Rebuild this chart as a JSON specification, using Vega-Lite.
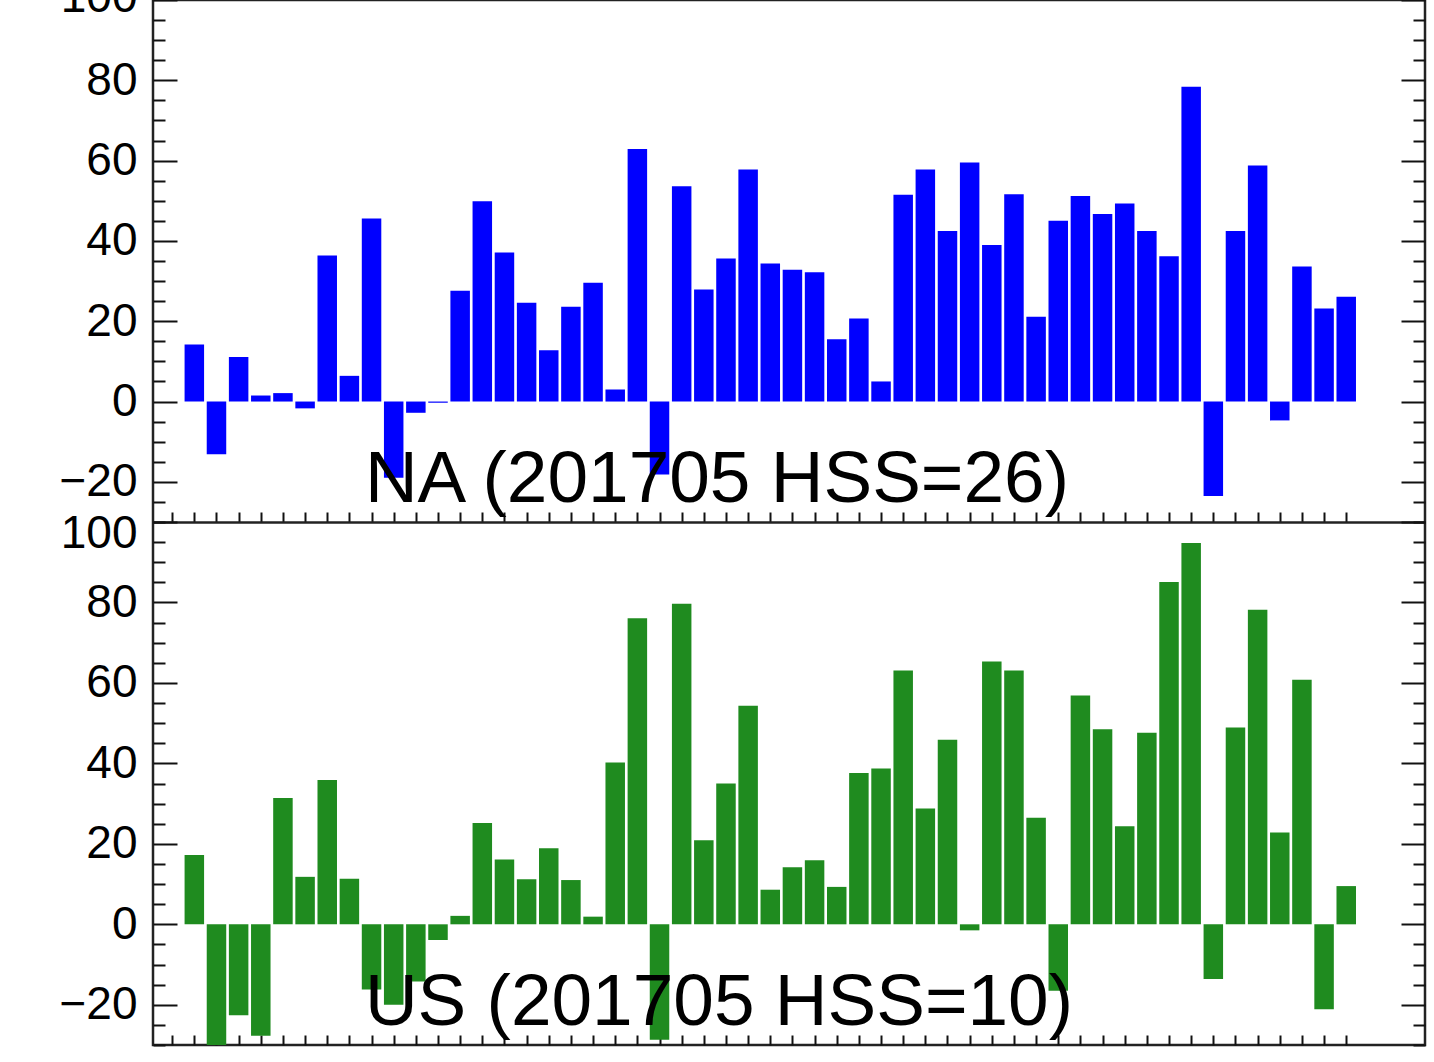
{
  "$schema": "https://vega.github.io/schema/vega-lite/v6.json",
  "autosize": {"type": "none"},
  "padding": {"left": 153, "top": 0, "right": 9, "bottom": 17},
  "background": "white",
  "width": 1272,
  "height": 1045,
  "config": {
    "view": {"stroke": "#222222", "strokeWidth": 2.5},
    "font": "Liberation Sans"
  },
  "datasets": {
    "bars": [
      {"p": "NA", "i": 1, "v": 14.2}, {"p": "NA", "i": 2, "v": -13.1}, {"p": "NA", "i": 3, "v": 11.1}, {"p": "NA", "i": 4, "v": 1.5},
      {"p": "NA", "i": 5, "v": 2.1}, {"p": "NA", "i": 6, "v": -1.7}, {"p": "NA", "i": 7, "v": 36.4}, {"p": "NA", "i": 8, "v": 6.4},
      {"p": "NA", "i": 9, "v": 45.6}, {"p": "NA", "i": 10, "v": -19.0}, {"p": "NA", "i": 11, "v": -2.8}, {"p": "NA", "i": 12, "v": -0.3},
      {"p": "NA", "i": 13, "v": 27.6}, {"p": "NA", "i": 14, "v": 49.9}, {"p": "NA", "i": 15, "v": 37.1}, {"p": "NA", "i": 16, "v": 24.6},
      {"p": "NA", "i": 17, "v": 12.8}, {"p": "NA", "i": 18, "v": 23.6}, {"p": "NA", "i": 19, "v": 29.6}, {"p": "NA", "i": 20, "v": 3.0},
      {"p": "NA", "i": 21, "v": 62.9}, {"p": "NA", "i": 22, "v": -18.2}, {"p": "NA", "i": 23, "v": 53.6}, {"p": "NA", "i": 24, "v": 27.9},
      {"p": "NA", "i": 25, "v": 35.6}, {"p": "NA", "i": 26, "v": 57.8}, {"p": "NA", "i": 27, "v": 34.4}, {"p": "NA", "i": 28, "v": 32.8},
      {"p": "NA", "i": 29, "v": 32.2}, {"p": "NA", "i": 30, "v": 15.5}, {"p": "NA", "i": 31, "v": 20.7}, {"p": "NA", "i": 32, "v": 5.0},
      {"p": "NA", "i": 33, "v": 51.5}, {"p": "NA", "i": 34, "v": 57.8}, {"p": "NA", "i": 35, "v": 42.5}, {"p": "NA", "i": 36, "v": 59.5},
      {"p": "NA", "i": 37, "v": 39.0}, {"p": "NA", "i": 38, "v": 51.6}, {"p": "NA", "i": 39, "v": 21.1}, {"p": "NA", "i": 40, "v": 45.0},
      {"p": "NA", "i": 41, "v": 51.2}, {"p": "NA", "i": 42, "v": 46.7}, {"p": "NA", "i": 43, "v": 49.3}, {"p": "NA", "i": 44, "v": 42.5},
      {"p": "NA", "i": 45, "v": 36.2}, {"p": "NA", "i": 46, "v": 78.4}, {"p": "NA", "i": 47, "v": -23.5}, {"p": "NA", "i": 48, "v": 42.5},
      {"p": "NA", "i": 49, "v": 58.8}, {"p": "NA", "i": 50, "v": -4.7}, {"p": "NA", "i": 51, "v": 33.6}, {"p": "NA", "i": 52, "v": 23.2},
      {"p": "NA", "i": 53, "v": 26.1},
      {"p": "US", "i": 1, "v": 17.2}, {"p": "US", "i": 2, "v": -31}, {"p": "US", "i": 3, "v": -22.6}, {"p": "US", "i": 4, "v": -27.7},
      {"p": "US", "i": 5, "v": 31.4}, {"p": "US", "i": 6, "v": 11.8}, {"p": "US", "i": 7, "v": 35.9}, {"p": "US", "i": 8, "v": 11.3},
      {"p": "US", "i": 9, "v": -16.2}, {"p": "US", "i": 10, "v": -20.0}, {"p": "US", "i": 11, "v": -14.2}, {"p": "US", "i": 12, "v": -3.9},
      {"p": "US", "i": 13, "v": 2.1}, {"p": "US", "i": 14, "v": 25.2}, {"p": "US", "i": 15, "v": 16.1}, {"p": "US", "i": 16, "v": 11.2},
      {"p": "US", "i": 17, "v": 18.9}, {"p": "US", "i": 18, "v": 11.0}, {"p": "US", "i": 19, "v": 1.9}, {"p": "US", "i": 20, "v": 40.2},
      {"p": "US", "i": 21, "v": 76.1}, {"p": "US", "i": 22, "v": -28.7}, {"p": "US", "i": 23, "v": 79.7}, {"p": "US", "i": 24, "v": 20.9},
      {"p": "US", "i": 25, "v": 35.0}, {"p": "US", "i": 26, "v": 54.3}, {"p": "US", "i": 27, "v": 8.6}, {"p": "US", "i": 28, "v": 14.2},
      {"p": "US", "i": 29, "v": 15.9}, {"p": "US", "i": 30, "v": 9.3}, {"p": "US", "i": 31, "v": 37.6}, {"p": "US", "i": 32, "v": 38.7},
      {"p": "US", "i": 33, "v": 63.1}, {"p": "US", "i": 34, "v": 28.8}, {"p": "US", "i": 35, "v": 45.9}, {"p": "US", "i": 36, "v": -1.5},
      {"p": "US", "i": 37, "v": 65.3}, {"p": "US", "i": 38, "v": 63.1}, {"p": "US", "i": 39, "v": 26.5}, {"p": "US", "i": 40, "v": -16.5},
      {"p": "US", "i": 41, "v": 56.9}, {"p": "US", "i": 42, "v": 48.5}, {"p": "US", "i": 43, "v": 24.4}, {"p": "US", "i": 44, "v": 47.6},
      {"p": "US", "i": 45, "v": 85.1}, {"p": "US", "i": 46, "v": 94.8}, {"p": "US", "i": 47, "v": -13.6}, {"p": "US", "i": 48, "v": 48.9},
      {"p": "US", "i": 49, "v": 78.2}, {"p": "US", "i": 50, "v": 22.8}, {"p": "US", "i": 51, "v": 60.8}, {"p": "US", "i": 52, "v": -21.1},
      {"p": "US", "i": 53, "v": 9.5}
    ],
    "titles": [
      {"p": "NA", "x": 8.7, "y": -25, "t": "NA (201705 HSS=26)"},
      {"p": "US", "x": 8.7, "y": -25, "t": "US (201705 HSS=10)"}
    ]
  },
  "resolve": {"scale": {"y": "independent"}, "axis": {"x": "independent", "y": "independent"}},
  "layer": [
    {
      "data": {"name": "bars"},
      "transform": [{"filter": "datum.p === 'NA'"}],
      "mark": {"type": "bar", "color": "#0000ff", "size": 19.5, "clip": true},
      "encoding": {
        "x": {"field": "i", "type": "quantitative",
          "scale": {"domain": [-0.64, 56.33], "nice": false, "zero": false},
          "axis": {"orient": "bottom", "offset": -523, "values": [0,1,2,3,4,5,6,7,8,9,10,11,12,13,14,15,16,17,18,19,20,21,22,23,24,25,26,27,28,29,30,31,32,33,34,35,36,37,38,39,40,41,42,43,44,45,46,47,48,49,50,51,52,53],
            "domain": true, "domainColor": "#222222", "domainWidth": 2.5, "grid": false, "labels": false, "tickSize": -10, "tickWidth": 2, "tickColor": "#111111", "title": null}},
        "y": {"field": "v", "type": "quantitative",
          "scale": {"domain": [-30, 100], "range": [522, 0], "nice": false, "zero": false},
          "axis": {"orient": "left", "values": [-30,-25,-20,-15,-10,-5,0,5,10,15,20,25,30,35,40,45,50,55,60,65,70,75,80,85,90,95,100],
            "domain": false, "grid": false, "title": null,
            "tickSize": {"condition": {"test": "datum.value % 20 === 0", "value": -24}, "value": -12},
            "tickWidth": 2, "tickColor": "#111111",
            "labelExpr": "datum.value % 20 === 0 ? datum.label : ''",
            "labelFont": "Liberation Sans", "labelFontSize": 46, "labelColor": "#000000",
            "labelPadding": 40, "labelOverlap": false, "labelBound": false,
            "labelOffset": {"condition": {"test": "datum.value === 100", "value": -3}, "value": 0}}}
      }
    },
    {
      "data": {"name": "titles"},
      "transform": [{"filter": "datum.p === 'NA'"}],
      "mark": {"type": "text", "align": "left", "baseline": "alphabetic", "fontSize": 73, "font": "Liberation Sans", "color": "#000000"},
      "encoding": {
        "x": {"field": "x", "type": "quantitative", "scale": {"domain": [-0.64, 56.33], "nice": false, "zero": false}, "axis": null},
        "y": {"field": "y", "type": "quantitative", "scale": {"domain": [-30, 100], "range": [522, 0], "nice": false, "zero": false},
          "axis": {"orient": "right", "values": [-30,-25,-20,-15,-10,-5,0,5,10,15,20,25,30,35,40,45,50,55,60,65,70,75,80,85,90,95,100],
            "domain": false, "grid": false, "title": null, "labels": false,
            "tickSize": {"condition": {"test": "datum.value % 20 === 0", "value": -24}, "value": -12},
            "tickWidth": 2, "tickColor": "#111111"}},
        "text": {"field": "t"}
      }
    },
    {
      "data": {"name": "bars"},
      "transform": [{"filter": "datum.p === 'US'"}],
      "mark": {"type": "bar", "color": "#1f8b1f", "size": 19.5, "clip": true},
      "encoding": {
        "x": {"field": "i", "type": "quantitative",
          "scale": {"domain": [-0.64, 56.33], "nice": false, "zero": false},
          "axis": {"orient": "bottom", "values": [0,1,2,3,4,5,6,7,8,9,10,11,12,13,14,15,16,17,18,19,20,21,22,23,24,25,26,27,28,29,30,31,32,33,34,35,36,37,38,39,40,41,42,43,44,45,46,47,48,49,50,51,52,53],
            "domain": false, "grid": false, "labels": false, "tickSize": -10, "tickWidth": 2, "tickColor": "#111111", "title": null}},
        "y": {"field": "v", "type": "quantitative",
          "scale": {"domain": [-30, 100], "range": [1045, 522], "nice": false, "zero": false},
          "axis": {"orient": "left", "values": [-30,-25,-20,-15,-10,-5,0,5,10,15,20,25,30,35,40,45,50,55,60,65,70,75,80,85,90,95,100],
            "domain": false, "grid": false, "title": null,
            "tickSize": {"condition": {"test": "datum.value % 20 === 0", "value": -24}, "value": -12},
            "tickWidth": 2, "tickColor": "#111111",
            "labelExpr": "datum.value % 20 === 0 ? datum.label : ''",
            "labelFont": "Liberation Sans", "labelFontSize": 46, "labelColor": "#000000",
            "labelPadding": 40, "labelOverlap": false, "labelBound": false,
            "labelOffset": {"condition": {"test": "datum.value === 100", "value": 11}, "value": 0}}}
      }
    },
    {
      "data": {"name": "titles"},
      "transform": [{"filter": "datum.p === 'US'"}],
      "mark": {"type": "text", "align": "left", "baseline": "alphabetic", "fontSize": 73, "font": "Liberation Sans", "color": "#000000"},
      "encoding": {
        "x": {"field": "x", "type": "quantitative", "scale": {"domain": [-0.64, 56.33], "nice": false, "zero": false}, "axis": null},
        "y": {"field": "y", "type": "quantitative", "scale": {"domain": [-30, 100], "range": [1045, 522], "nice": false, "zero": false},
          "axis": {"orient": "right", "values": [-30,-25,-20,-15,-10,-5,0,5,10,15,20,25,30,35,40,45,50,55,60,65,70,75,80,85,90,95,100],
            "domain": false, "grid": false, "title": null, "labels": false,
            "tickSize": {"condition": {"test": "datum.value % 20 === 0", "value": -24}, "value": -12},
            "tickWidth": 2, "tickColor": "#111111"}},
        "text": {"field": "t"}
      }
    }
  ]
}
